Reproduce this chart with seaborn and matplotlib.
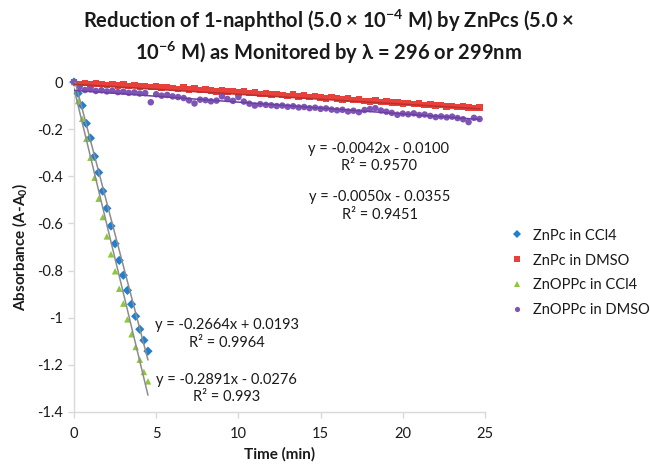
import numpy as np
import pandas as pd
import matplotlib
matplotlib.use("Agg")
import matplotlib.pyplot as plt
import seaborn as sns

# ---------------- data ----------------
t_ccl4 = [0, 0.25, 0.5, 0.75, 1.0, 1.25, 1.5, 1.75, 2.0, 2.25, 2.5, 2.75,
          3.0, 3.25, 3.5, 3.75, 4.0, 4.25, 4.5]
znpc_ccl4 = [0, -0.048, -0.100, -0.176, -0.238, -0.316, -0.384, -0.463, -0.536,
             -0.611, -0.686, -0.757, -0.820, -0.884, -0.943, -0.994, -1.049,
             -1.096, -1.142]
znoppc_ccl4 = [0, -0.081, -0.156, -0.241, -0.321, -0.406, -0.495, -0.573, -0.655,
               -0.731, -0.803, -0.877, -0.940, -1.007, -1.070, -1.124, -1.178,
               -1.230, -1.270]

t_dmso = [0, 0.33, 0.67, 1.0, 1.33, 1.67, 2.0, 2.33, 2.67, 3.0, 3.33, 3.67,
          4.0, 4.33, 4.67, 5.0, 5.33, 5.67, 6.0, 6.33, 6.67, 7.0, 7.33, 7.67,
          8.0, 8.33, 8.67, 9.0, 9.33, 9.67, 10.0, 10.33, 10.67, 11.0, 11.33, 11.67,
          12.0, 12.33, 12.67, 13.0, 13.33, 13.67, 14.0, 14.33, 14.67, 15.0, 15.33, 15.67,
          16.0, 16.33, 16.67, 17.0, 17.33, 17.67, 18.0, 18.33, 18.67, 19.0, 19.33, 19.67,
          20.0, 20.33, 20.67, 21.0, 21.33, 21.67, 22.0, 22.33, 22.67, 23.0, 23.33, 23.67,
          24.0, 24.33, 24.67]
znpc_dmso = [0, -0.008, -0.005, -0.010, -0.006, -0.009, -0.012, -0.008, -0.014, -0.011,
             -0.016, -0.013, -0.019, -0.017, -0.021, -0.018, -0.024, -0.021, -0.026, -0.029,
             -0.024, -0.031, -0.028, -0.033, -0.030, -0.036, -0.040, -0.034, -0.041, -0.038,
             -0.044, -0.041, -0.047, -0.045, -0.050, -0.048, -0.053, -0.050, -0.056, -0.059,
             -0.054, -0.061, -0.058, -0.063, -0.060, -0.066, -0.069, -0.064, -0.071, -0.075,
             -0.070, -0.077, -0.074, -0.080, -0.083, -0.078, -0.085, -0.082, -0.088, -0.086,
             -0.091, -0.089, -0.094, -0.092, -0.097, -0.095, -0.100, -0.098, -0.103, -0.101,
             -0.106, -0.104, -0.108, -0.111, -0.109]
znoppc_dmso = [0, -0.022, -0.034, -0.031, -0.038, -0.035, -0.040, -0.037, -0.043, -0.041,
               -0.046, -0.044, -0.049, -0.047, -0.086, -0.052, -0.058, -0.055, -0.061, -0.064,
               -0.068, -0.078, -0.091, -0.075, -0.077, -0.082, -0.079, -0.061, -0.072, -0.080,
               -0.064, -0.083, -0.092, -0.100, -0.094, -0.097, -0.099, -0.102, -0.100, -0.105,
               -0.103, -0.108, -0.106, -0.111, -0.109, -0.114, -0.112, -0.117, -0.120, -0.118,
               -0.125, -0.122, -0.128, -0.119, -0.115, -0.111, -0.121, -0.126, -0.131, -0.139,
               -0.134, -0.137, -0.133, -0.140, -0.138, -0.144, -0.149, -0.146, -0.150, -0.147,
               -0.153, -0.158, -0.170, -0.152, -0.157]

series_names = ["ZnPc in CCl4", "ZnPc in DMSO", "ZnOPPc in CCl4", "ZnOPPc in DMSO"]
trend_slopes = [-0.2664, -0.0042, -0.2891, -0.0050]
trend_intercepts = [0.0193, -0.0100, -0.0276, -0.0355]
trend_r2 = ["0.9964", "0.9570", "0.993", "0.9451"]

# ---------------- style ----------------
sns.set_theme(style="white")
plt.rcParams["font.family"] = ["Lato", "DejaVu Sans"]
plt.rcParams["axes.unicode_minus"] = False
plt.rcParams["mathtext.fontset"] = "custom"
plt.rcParams["mathtext.rm"] = "Lato"
plt.rcParams["mathtext.it"] = "Lato:italic"
plt.rcParams["mathtext.bf"] = "Lato:bold"

colors = {"ZnPc in CCl4": "#1f7fd1", "ZnPc in DMSO": "#e8413c",
          "ZnOPPc in CCl4": "#8cc63f", "ZnOPPc in DMSO": "#7e55b5"}
markers = {"ZnPc in CCl4": "D", "ZnPc in DMSO": "s",
           "ZnOPPc in CCl4": "^", "ZnOPPc in DMSO": "o"}
trend_colors = ["#8c8c8c", "#b8302c", "#8c8c8c", "#6a3f9e"]

frames = [
    pd.DataFrame({"t": t_ccl4, "A": znpc_ccl4, "series": series_names[0]}),
    pd.DataFrame({"t": t_dmso, "A": znpc_dmso, "series": series_names[1]}),
    pd.DataFrame({"t": t_ccl4, "A": znoppc_ccl4, "series": series_names[2]}),
    pd.DataFrame({"t": t_dmso, "A": znoppc_dmso, "series": series_names[3]}),
]
df = pd.concat(frames, ignore_index=True)

fig = plt.figure(figsize=(6.5, 4.71), dpi=100)
ax = fig.add_axes([74 / 650, 1 - 412 / 471, (485 - 74) / 650, (412 - 82) / 471])

sns.scatterplot(data=df, x="t", y="A", hue="series", style="series",
                hue_order=series_names, style_order=series_names,
                palette=colors, markers=markers, s=22, edgecolor="none",
                linewidth=0, ax=ax, clip_on=False, zorder=3)

# trendlines (from the fitted coefficients shown on the chart)
ranges = [t_ccl4, t_dmso, t_ccl4, t_dmso]
for i in range(4):
    xs = np.array([min(ranges[i]), max(ranges[i])])
    ys = trend_slopes[i] * xs + trend_intercepts[i]
    sns.lineplot(x=xs, y=ys, color=trend_colors[i], lw=1.1, ax=ax,
                 legend=False, zorder=4)

ax.set_xlim(0, 25)
ax.set_ylim(-1.4, 0)
ax.set_xticks([0, 5, 10, 15, 20, 25])
ax.set_yticks([0, -0.2, -0.4, -0.6, -0.8, -1.0, -1.2, -1.4])
ax.set_yticklabels(["0", "-0.2", "-0.4", "-0.6", "-0.8", "-1", "-1.2", "-1.4"])
ax.set_xticklabels(["0", "5", "10", "15", "20", "25"])

for s in ["top", "right"]:
    ax.spines[s].set_visible(False)
for s in ["left", "bottom"]:
    ax.spines[s].set_color("#d9d9d9")
    ax.spines[s].set_linewidth(1.0)
ax.tick_params(axis="both", which="major", direction="out", length=4,
               width=1, color="#d9d9d9", labelsize=10.5, labelcolor="#1a1a1a",
               left=True, bottom=True, pad=4)
ax.tick_params(axis="x", pad=7)

ax.set_xlabel("Time (min)", fontsize=11, fontweight="bold", color="#1a1a1a", labelpad=4)
ax.set_ylabel("Absorbance (A-A$\\mathbf{_0}$)", fontsize=11, fontweight="bold",
              color="#1a1a1a", labelpad=6)

fig.text(0.505, 1 - 37 / 471,
         "Reduction of 1-naphthol (5.0 × 10$\\mathbf{^{-4}}$ M) by ZnPcs (5.0 ×\n"
         "10$\\mathbf{^{-6}}$ M) as Monitored by λ = 296 or 299nm",
         ha="center", va="center", fontsize=14.5, fontweight="bold",
         color="#1a1a1a", linespacing=1.3)

# equation labels
eq_x = [9.3, 18.55, 9.3, 18.6]
eq_y = [-1.07, -0.32, -1.30, -0.525]
for i in range(4):
    sign = "+" if trend_intercepts[i] >= 0 else "-"
    label = (f"y = {trend_slopes[i]:.4f}x {sign} {abs(trend_intercepts[i]):.4f}\n"
             f"R² = {trend_r2[i]}")
    ax.text(eq_x[i], eq_y[i], label, ha="center", va="center", fontsize=10.5,
            color="#1a1a1a", linespacing=1.35)

leg = ax.legend(loc="center left", bbox_to_anchor=(497 / 650, 1 - 273 / 471),
                bbox_transform=fig.transFigure, frameon=False, fontsize=10.5,
                handletextpad=0.1, labelspacing=0.75, borderaxespad=0,
                markerscale=0.8)
for txt in leg.get_texts():
    txt.set_color("#1a1a1a")

fig.savefig("out.png", dpi=100)
